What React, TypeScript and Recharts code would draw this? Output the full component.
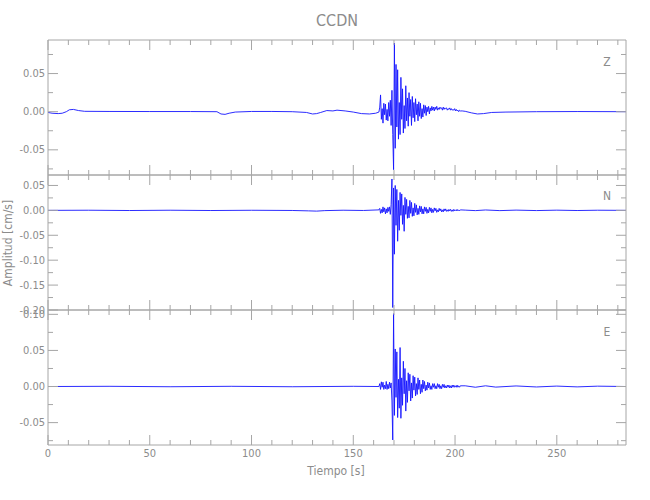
import React from 'react';
import { LineChart, Line, XAxis, YAxis } from 'recharts';

// ---------------- data ----------------
const X_MAX = 284;
const X_TICKS = [0, 10, 20, 30, 40, 50, 60, 70, 80, 90, 100, 110, 120, 130, 140, 150, 160, 170, 180, 190, 200, 210, 220, 230, 240, 250, 260, 270, 280];
const X_LABELS = [0, 50, 100, 150, 200, 250];

// sampling of the strong-motion window (s)
const BURST_T0 = 163;
const BURST_DT = 0.4;

// Z component
const zPre: [number, number][] = [
  [0, -0.001], [2, -0.002], [5, -0.0025], [7, -0.002], [9, 0], [10.5, 0.0025], [12.5, 0.003], [15, 0.0015],
  [18, 0.0005], [30, 0.0003], [50, 0.0002], [70, 0.0002], [83, 0], [85, -0.003], [87, -0.0035], [89, -0.002],
  [92, -0.0005], [100, 0.0003], [110, 0.0003], [120, 0], [127, -0.001], [130, -0.003], [132, -0.0025],
  [134, -0.001], [137, 0.0015], [140, 0.001], [142, 0.002], [146, 0.001], [150, -0.0005], [154, -0.0025],
  [158, -0.003], [161, -0.002], [162.6, -0.0005],
];
const zBurst = [
  0.006, 0.022, -0.010, 0.004, -0.015, 0.011, -0.004, 0.010, -0.011, 0.003,
  -0.012, 0.012, -0.006, 0.015, -0.018,
  0.028, -0.030, -0.076, 0.090, -0.048, 0.062, -0.020, 0.055, -0.036, 0.012,
  -0.030, 0.045, -0.010, 0.030, -0.028, 0.008, -0.022, 0.034, -0.012, 0.018,
  -0.019, 0.025, -0.006, 0.016, -0.018, 0.020, -0.008, 0.012, -0.013, 0.017,
  -0.004, 0.010, -0.012, 0.013, -0.006, 0.011, -0.009, 0.004, -0.007, 0.009,
  -0.002, 0.008, -0.005, 0.006, 0.000, 0.007, -0.003, 0.005, 0.001, 0.007,
  0.002, 0.006, 0.001, 0.006, 0.003, 0.007, 0.002, 0.005, 0.003, 0.006,
  0.004, 0.005, 0.002, 0.006, 0.003, 0.005, 0.004, 0.005, 0.002, 0.004,
  0.003, 0.005, 0.002, 0.004, 0.002, 0.003, 0.002, 0.004, 0.001, 0.003,
  0.001, 0.002, 0.000, 0.002, 0.001,
];
const zPost: [number, number][] = [
  [203.5, 0.001], [205, 0.0005], [208, -0.0015], [211, -0.003], [214, -0.0025], [218, -0.001],
  [225, -0.0005], [240, 0], [260, 0.0002], [284, 0],
];

// N component
const nPre: [number, number][] = [
  [0, 0], [20, 0.0003], [40, -0.0003], [60, 0.0003], [80, -0.0003], [100, 0.0002], [120, -0.0002],
  [128, -0.001], [132, -0.0015], [136, -0.0005], [145, 0.0003], [155, -0.0002], [162.6, 0.001],
];
const nBurst = [
  0.004, -0.006, 0.002, -0.005, 0.007, -0.003, 0.005, -0.007, 0.003, -0.005,
  0.006, -0.002, 0.007, -0.008, 0.012,
  0.063, -0.195, 0.045, -0.088, 0.050, -0.030, 0.042, -0.062, 0.020, -0.040,
  0.036, -0.010, 0.033, -0.028, 0.010, -0.042, 0.026, -0.008, 0.022, -0.016,
  0.008, -0.015, 0.020, -0.006, 0.016, -0.012, 0.005, -0.011, 0.014, -0.004,
  0.011, -0.009, 0.004, -0.008, 0.009, -0.003, 0.008, -0.007, 0.003, -0.007,
  0.007, -0.002, 0.006, -0.006, 0.002, -0.005, 0.006, -0.002, 0.005, -0.005,
  0.002, -0.004, 0.005, -0.001, 0.004, -0.004, 0.001, -0.003, 0.004, -0.001,
  0.003, -0.003, 0.001, -0.003, 0.003, -0.001, 0.003, -0.002, 0.001, -0.002,
  0.002, -0.001, 0.002, -0.002, 0.001, -0.002, 0.002, -0.001, 0.001, -0.001,
  0.002, -0.001, 0.001, -0.001, 0.001,
];
const nPost: [number, number][] = [
  [205, 0.0005], [210, -0.0005], [215, 0.0008], [222, -0.0005], [230, 0.0005], [240, -0.0004],
  [250, 0.0004], [260, -0.0003], [270, 0.0003], [284, 0],
];

// E component
const ePre: [number, number][] = [
  [0, 0], [30, 0.0003], [60, -0.0003], [90, 0.0003], [120, -0.0003], [150, 0.0003], [162.6, 0],
];
const eBurst = [
  0.004, -0.004, 0.0065, -0.001, 0.006, -0.004, 0.002, -0.003, 0.007, -0.004,
  0.003, -0.003, 0.006, -0.002, 0.005,
  -0.020, -0.074, 0.101, -0.040, 0.052, -0.015, 0.048, -0.043, 0.010, -0.030,
  0.054, -0.044, 0.012, -0.026, 0.035, -0.010, 0.025, -0.034, 0.008, -0.022,
  0.019, -0.006, 0.017, -0.020, 0.005, -0.016, 0.015, -0.005, 0.013, -0.013,
  0.004, -0.011, 0.012, -0.004, 0.009, -0.010, 0.003, -0.008, 0.009, -0.003,
  0.007, -0.006, 0.002, -0.005, 0.006, -0.002, 0.005, -0.004, 0.001, -0.004,
  0.004, -0.001, 0.004, -0.003, 0.001, -0.003, 0.004, -0.001, 0.003, -0.003,
  0.001, -0.003, 0.003, -0.001, 0.003, -0.002, 0.001, -0.002, 0.002, -0.001,
  0.002, -0.002, 0.001, -0.002, 0.002, -0.001, 0.002, -0.001, 0.001, -0.001,
  0.002, -0.001, 0.001, -0.001, 0.001,
];
const ePost: [number, number][] = [
  [205, 0.001], [210, -0.001], [215, 0.001], [220, -0.0008], [230, 0.0008], [240, -0.0006],
  [250, 0.0006], [260, -0.0005], [270, 0.0005], [284, 0],
];

const Z_DOMAIN: [number, number] = [-0.083, 0.094];
const N_DOMAIN: [number, number] = [-0.2, 0.071];
const E_DOMAIN: [number, number] = [-0.081, 0.106];
const Z_TICKS = [-0.075, -0.05, -0.025, 0, 0.025, 0.05, 0.075];
const N_TICKS = [-0.2, -0.175, -0.15, -0.125, -0.1, -0.075, -0.05, -0.025, 0, 0.025, 0.05];
const E_TICKS = [-0.075, -0.05, -0.025, 0, 0.025, 0.05, 0.075, 0.1];

const TITLE = 'CCDN';
const Y_TITLE = 'Amplitud [cm/s]';
const X_TITLE = 'Tiempo [s]';
const COMPONENTS = ['Z', 'N', 'E'];

// ---------------- style ----------------
const AXIS = '#a6a6a6';
const TEXT = '#8c8c8c';
const TRACE = '#1414ff';
const FONT = "'Liberation Sans Narrow', 'DejaVu Sans Condensed', 'Liberation Sans', sans-serif";

function buildSeries(pre: [number, number][], burst: number[], post: [number, number][]) {
  return [
    ...pre.map(([t, v]) => ({ t, v })),
    ...burst.map((v, i) => ({ t: +(BURST_T0 + i * BURST_DT).toFixed(2), v })),
    ...post.map(([t, v]) => ({ t, v })),
  ];
}

const isMajorY = (v: number) => Math.abs(v / 0.05 - Math.round(v / 0.05)) < 1e-6;
const isMajorX = (v: number) => v % 50 === 0;

const fmtY = (v: number) => (Math.abs(v) < 1e-9 ? '0.00' : v.toFixed(2));

function LeftTick(props: any) {
  const { x, y, payload } = props;
  const major = isMajorY(payload.value);
  return (
    <g>
      <line x1={x} x2={x + (major ? 10 : 5)} y1={y} y2={y} stroke={AXIS} strokeWidth={1} />
      {major && (
        <text x={x - 3} y={y} textAnchor="end" dominantBaseline="central" fill={TEXT} fontSize={11} fontFamily={FONT}>
          {fmtY(payload.value)}
        </text>
      )}
    </g>
  );
}

function RightTick(props: any) {
  const { x, y, payload } = props;
  const major = isMajorY(payload.value);
  return <line x1={x} x2={x - (major ? 10 : 5)} y1={y} y2={y} stroke={AXIS} strokeWidth={1} />;
}

function TopTick(props: any) {
  const { x, y, payload } = props;
  const major = isMajorX(payload.value);
  return <line x1={x} x2={x} y1={y} y2={y + (major ? 10 : 5)} stroke={AXIS} strokeWidth={1} />;
}

function makeBottomTick(showLabel: boolean) {
  return function BottomTick(props: any) {
    const { x, y, payload } = props;
    const major = isMajorX(payload.value);
    const labelled = showLabel && X_LABELS.includes(payload.value);
    return (
      <g>
        <line x1={x} x2={x} y1={y} y2={y - (major ? 10 : 5)} stroke={AXIS} strokeWidth={1} />
        {labelled && (
          <text x={x} y={y + 8} textAnchor="middle" dominantBaseline="central" fill={TEXT} fontSize={11} fontFamily={FONT}>
            {String(payload.value)}
          </text>
        )}
      </g>
    );
  };
}

type PanelProps = {
  data: { t: number; v: number }[];
  domain: [number, number];
  ticks: number[];
  top: number;
  bottom: number;
  showXLabels: boolean;
};

// top/bottom: pixel positions of the plot frame's top and bottom edges
function Panel({ data, domain, ticks, top, bottom, showXLabels }: PanelProps) {
  return (
    <div style={{ position: 'absolute', left: 0, top: 0 }}>
      <LineChart width={650} height={500} data={data} margin={{ top: top - 1, right: 0, bottom: 500 - bottom - 1, left: 0 }}>
        <XAxis
          xAxisId="b" dataKey="t" type="number" domain={[0, X_MAX]} ticks={X_TICKS} interval={0}
          orientation="bottom" height={1} tickSize={0} tickMargin={0} allowDataOverflow
          axisLine={{ stroke: AXIS }} tickLine={false} tick={makeBottomTick(showXLabels)}
        />
        <XAxis
          xAxisId="t" dataKey="t" type="number" domain={[0, X_MAX]} ticks={X_TICKS} interval={0}
          orientation="top" height={1} tickSize={0} tickMargin={0} allowDataOverflow
          axisLine={{ stroke: AXIS }} tickLine={false} tick={TopTick}
        />
        <YAxis
          yAxisId="l" type="number" domain={domain} ticks={ticks} interval={0} allowDataOverflow
          orientation="left" width={48} tickSize={0} tickMargin={0}
          axisLine={{ stroke: AXIS }} tickLine={false} tick={LeftTick}
        />
        <YAxis
          yAxisId="r" type="number" domain={domain} ticks={ticks} interval={0} allowDataOverflow
          orientation="right" width={24} tickSize={0} tickMargin={0}
          axisLine={{ stroke: AXIS }} tickLine={false} tick={RightTick}
        />
        <Line
          xAxisId="b" yAxisId="l" dataKey="v" type="linear" stroke={TRACE} strokeWidth={0.9}
          dot={false} activeDot={false} isAnimationActive={false}
        />
      </LineChart>
    </div>
  );
}

export default function App() {
  const zData = buildSeries(zPre, zBurst, zPost);
  const nData = buildSeries(nPre, nBurst, nPost);
  const eData = buildSeries(ePre, eBurst, ePost);
  return (
    <div style={{ position: 'fixed', left: 0, top: 0, width: 650, height: 500, background: '#fff', overflow: 'hidden' }}>
      <Panel data={zData} domain={Z_DOMAIN} ticks={Z_TICKS} top={40} bottom={175} showXLabels={false} />
      <Panel data={nData} domain={N_DOMAIN} ticks={N_TICKS} top={175} bottom={310} showXLabels={false} />
      <Panel data={eData} domain={E_DOMAIN} ticks={E_TICKS} top={310} bottom={445} showXLabels={true} />
      <svg width={650} height={500} style={{ position: 'absolute', left: 0, top: 0, pointerEvents: 'none' }}>
        <text x={337} y={20} textAnchor="middle" dominantBaseline="central" fill={TEXT} fontSize={16} fontFamily={FONT}>
          {TITLE}
        </text>
        <text x={607} y={62} textAnchor="middle" dominantBaseline="central" fill={TEXT} fontSize={12} fontFamily={FONT}>
          {COMPONENTS[0]}
        </text>
        <text x={607} y={196} textAnchor="middle" dominantBaseline="central" fill={TEXT} fontSize={12} fontFamily={FONT}>
          {COMPONENTS[1]}
        </text>
        <text x={607} y={332} textAnchor="middle" dominantBaseline="central" fill={TEXT} fontSize={12} fontFamily={FONT}>
          {COMPONENTS[2]}
        </text>
        <text
          x={8} y={243} textAnchor="middle" dominantBaseline="central" fill={TEXT} fontSize={12} fontFamily={FONT}
          transform="rotate(-90 8 243)"
        >
          {Y_TITLE}
        </text>
        <text x={336} y={471} textAnchor="middle" dominantBaseline="central" fill={TEXT} fontSize={12} fontFamily={FONT}>
          {X_TITLE}
        </text>
      </svg>
    </div>
  );
}
